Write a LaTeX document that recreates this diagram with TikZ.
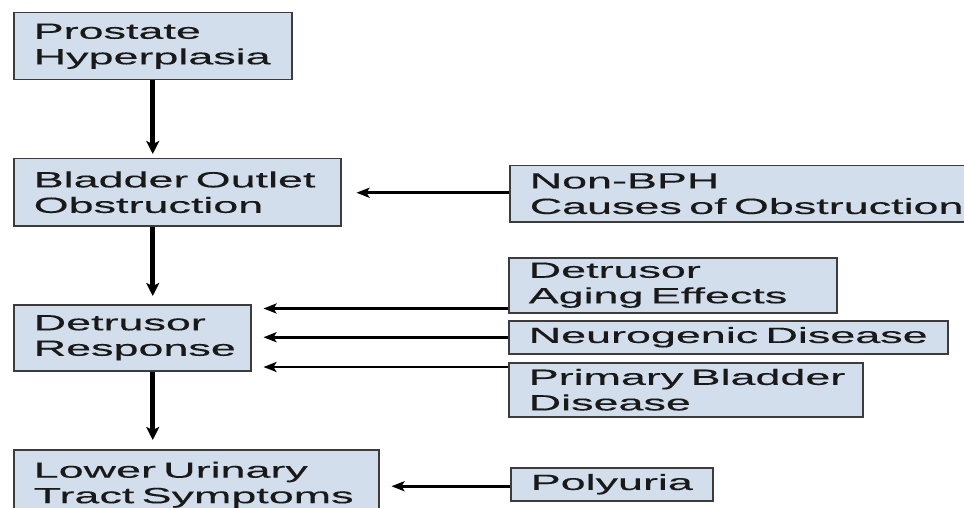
\documentclass[tikz,border=0pt]{standalone}
\usepackage{fontspec}
\setmainfont{Liberation Sans}
\newfontfamily\boxfont[FakeStretch=2.04,FakeBold=0.3]{Liberation Sans}
\usetikzlibrary{arrows.meta}
\definecolor{boxfill}{RGB}{210,222,235}
\definecolor{boxline}{RGB}{60,60,60}
\definecolor{ink}{RGB}{25,25,25}
\tikzset{
  box/.style={draw=boxline, line width=1.5pt, fill=boxfill, anchor=north west,
    inner xsep=20pt, inner ysep=0pt, align=left, text=ink,
    font=\boxfont\fontsize{22}{25.5}\selectfont},
  varrow/.style={line width=4.8pt, draw=black,
    -{Stealth[length=13pt,width=13pt,inset=3pt]}},
  harrow/.style={line width=2.6pt, draw=black,
    -{Stealth[length=13pt,width=10pt,inset=3pt]}}
}
\begin{document}
\begin{tikzpicture}[x=1pt,y=-1pt]
\useasboundingbox (0,0) rectangle (964,508);
\fill[white] (0,0) rectangle (964,508);
\clip (0,0) rectangle (964,508);
% left column
\node[box, minimum height=67pt, text width=238pt] (P) at (13,12) {\mbox{Prostate}\\\mbox{Hyperplasia}};
\node[box, minimum height=67pt, text width=287pt] (B) at (13,158) {\mbox{Bladder Outlet}\\\mbox{Obstruction}};
\node[box, minimum height=66pt, text width=197pt] (D) at (13,304) {\mbox{Detrusor}\\\mbox{Response}};
\node[box, minimum height=70pt, text width=325pt] (L) at (13,449) {\mbox{Lower Urinary}\\\mbox{Tract Symptoms}};
% right column
\node[box, minimum height=56pt, text width=440pt] (N) at (509,165) {\mbox{Non-BPH}\\\mbox{Causes of Obstruction}};
\node[box, minimum height=55pt, text width=288pt] (A) at (508,257) {\mbox{Detrusor}\\\mbox{Aging Effects}};
\node[box, minimum height=33pt, text width=399pt] (G) at (508,320) {\mbox{Neurogenic Disease}};
\node[box, minimum height=54pt, text width=314pt] (R) at (508,362) {\mbox{Primary Bladder}\\\mbox{Disease}};
\node[box, minimum height=33pt, text width=162pt] (Y) at (510,467) {\mbox{Polyuria}};
% vertical arrows
\draw[varrow, shorten >=4pt] (P.south) -- (P.south |- B.north);
\draw[varrow, shorten >=8pt] (P.south |- B.south) -- (P.south |- D.north);
\draw[varrow, shorten >=9pt] (P.south |- D.south) -- (P.south |- L.north);
% horizontal arrows
\draw[harrow, shorten >=15pt] ([yshift=1pt]N.west) -- ([yshift=1pt]N.west -| B.east);
\draw[harrow, shorten >=12pt] ([yshift=5pt]A.south west) -- ([yshift=5pt]A.south west -| D.east);
\draw[harrow, shorten >=12pt] (G.west) -- (G.west -| D.east);
\draw[harrow, shorten >=12pt] ([yshift=-5pt]R.north west) -- ([yshift=-5pt]R.north west -| D.east);
\draw[harrow, shorten >=12pt] ([yshift=-2pt]Y.west) -- ([yshift=-2pt]Y.west -| L.east);
\end{tikzpicture}
\end{document}
